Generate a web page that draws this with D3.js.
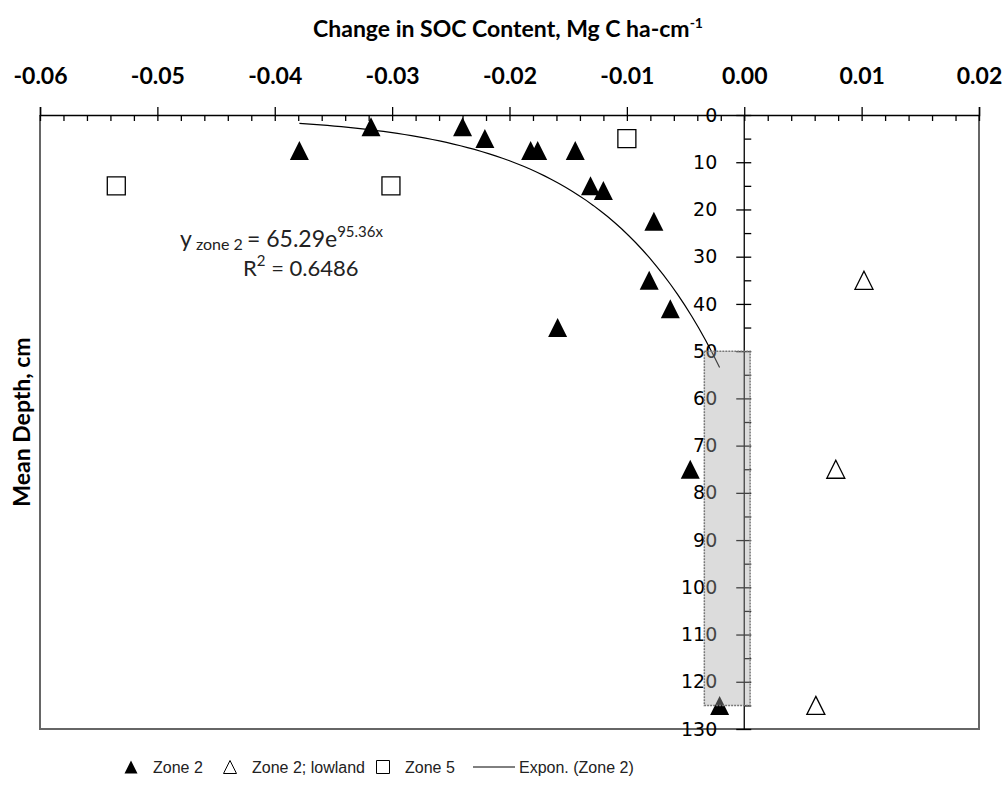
<!DOCTYPE html>
<html>
<head>
<meta charset="utf-8">
<script src="https://cdn.jsdelivr.net/npm/d3@7"></script>
<style>
  body { margin: 0; background: #fff; }
  svg { display: block; }
</style>
</head>
<body>
<script>
// Zone 2 (filled triangles): [change in SOC, depth]
var zone2 = [
  [-0.0379, 7.5], [-0.0318, 2.5], [-0.0240, 2.5], [-0.0221, 5],
  [-0.0182, 7.5], [-0.0176, 7.5], [-0.0144, 7.5], [-0.0131, 15],
  [-0.0120, 16], [-0.0077, 22.5], [-0.0081, 35], [-0.0063, 41],
  [-0.0159, 45], [-0.0046, 75], [-0.0021, 125]
];
// Zone 2; lowland (open triangles)
var zone2Lowland = [[0.0102, 35], [0.0078, 75], [0.0061, 125]];
// Zone 5 (open squares)
var zone5 = [[-0.0535, 15], [-0.0301, 15], [-0.0100, 5]];

// exponential fit for zone 2: y = a * e^(b x)
var fitA = 65.29, fitB = 95.36;

// shaded band [x0, x1, y0, y1]
var band = [-0.0034, 0.0005, 50, 125];

var xTicks = [-0.06, -0.05, -0.04, -0.03, -0.02, -0.01, 0.00, 0.01, 0.02];
var xMinorTicks = d3.range(-0.058, 0.02, 0.002).filter(function(d) { return Math.abs(Math.round(d * 1000) % 10) != 0; });
var yTicks = [0, 10, 20, 30, 40, 50, 60, 70, 80, 90, 100, 110, 120, 130];
var yMinorTicks = [5, 15, 25, 35, 45, 55, 65, 75, 85, 95, 105, 115, 125];

var legendNames = ["Zone 2", "Zone 2; lowland", "Zone 5", "Expon. (Zone 2)"];

var W = 1007, H = 792;
var pLeft = 40, pRight = 979, pTop = 115, pBottom = 729;

var x = d3.scaleLinear().domain([-0.06, 0.02]).range([pLeft, pRight]);
var y = d3.scaleLinear().domain([0, 130]).range([pTop, pBottom]);

var svg = d3.select("body").append("svg")
    .attr("width", W)
    .attr("height", H);

var cal = "Lato, 'Open Sans', sans-serif";
var narrow = "'Liberation Sans Narrow', 'Liberation Sans', sans-serif";

// frame
svg.append("path")
    .attr("d", "M" + pLeft + "," + pTop + "V" + pBottom + "H" + pRight + "V" + pTop)
    .attr("fill", "none")
    .attr("stroke", "#666")
    .attr("stroke-width", 2);

// top x axis
var xAxis = d3.axisTop(x)
    .tickValues(xTicks)
    .tickSize(8)
    .tickPadding(23)
    .tickFormat(function(d) { return d.toFixed(2); });

var gx = svg.append("g")
    .attr("transform", "translate(0," + pTop + ")")
    .call(xAxis);
gx.select(".domain").attr("stroke", "#000").attr("stroke-width", 1.5);
gx.selectAll(".tick line").attr("y1", 6).attr("stroke-width", 1.3);
gx.selectAll(".tick text")
    .style("font-family", cal)
    .style("font-weight", "bold")
    .style("font-size", "23px")
    .attr("fill", "#000");

var gxm = svg.append("g")
    .attr("transform", "translate(0," + pTop + ")")
    .call(d3.axisBottom(x).tickValues(xMinorTicks).tickSize(6).tickFormat(""));
gxm.select(".domain").remove();
gxm.selectAll(".tick line").attr("stroke-width", 1.3);

// y axis at x = 0
var yAxis = d3.axisLeft(y)
    .tickValues(yTicks)
    .tickSize(8)
    .tickPadding(19);

var gy = svg.append("g")
    .attr("transform", "translate(" + x(0) + ",0)")
    .call(yAxis);
gy.select(".domain").attr("d", "M0," + pTop + "V" + pBottom).attr("stroke", "#000").attr("stroke-width", 1.3);
gy.selectAll(".tick line").attr("x2", 7).attr("x1", -8).attr("stroke-width", 1.3);
gy.selectAll(".tick text")
    .style("font-family", "'DejaVu Sans', sans-serif")
    .style("font-size", "19px")
    .attr("fill", "#000");

var gym = svg.append("g")
    .attr("transform", "translate(" + x(0) + ",0)")
    .call(d3.axisRight(y).tickValues(yMinorTicks).tickSize(7).tickFormat(""));
gym.select(".domain").remove();
gym.selectAll(".tick line").attr("stroke-width", 1.3);

// trend line
var fitX0 = d3.min(zone2, function(d) { return d[0]; });
var fitX1 = d3.max(zone2, function(d) { return d[0]; });
var fitX = d3.range(0, 61).map(function(i) { return fitX0 + (fitX1 - fitX0) * i / 60; });
var line = d3.line()
    .x(function(d) { return x(d); })
    .y(function(d) { return y(fitA * Math.exp(fitB * d)); });
svg.append("path")
    .datum(fitX)
    .attr("d", line)
    .attr("fill", "none")
    .attr("stroke", "#000")
    .attr("stroke-width", 1.2);

// markers
function tri(s) {
  var h = s / 2;
  return "M0," + (-h) + "L" + h + "," + h + "L" + (-h) + "," + h + "Z";
}
function sq(s) {
  var h = s / 2;
  return "M" + (-h) + "," + (-h) + "H" + h + "V" + h + "H" + (-h) + "Z";
}

svg.append("g").selectAll("path")
    .data(zone5)
    .enter().append("path")
    .attr("transform", function(d) { return "translate(" + x(d[0]) + "," + y(d[1]) + ")"; })
    .attr("d", sq(18))
    .attr("fill", "#fff")
    .attr("stroke", "#000")
    .attr("stroke-width", 1.3);

svg.append("g").selectAll("path")
    .data(zone2Lowland)
    .enter().append("path")
    .attr("transform", function(d) { return "translate(" + x(d[0]) + "," + y(d[1]) + ")"; })
    .attr("d", tri(18))
    .attr("fill", "#fff")
    .attr("stroke", "#000")
    .attr("stroke-width", 1.3);

svg.append("g").selectAll("path")
    .data(zone2)
    .enter().append("path")
    .attr("transform", function(d) { return "translate(" + x(d[0]) + "," + y(d[1]) + ")"; })
    .attr("d", tri(19))
    .attr("fill", "#000");

// shaded band
svg.append("rect")
    .attr("x", x(band[0]))
    .attr("y", y(band[2]))
    .attr("width", x(band[1]) - x(band[0]))
    .attr("height", y(band[3]) - y(band[2]))
    .attr("fill", "#a8a8a8")
    .attr("fill-opacity", 0.4)
    .attr("stroke", "#777")
    .attr("stroke-width", 1.5)
    .attr("stroke-dasharray", "2,1");

// titles
svg.append("text")
    .attr("x", 508)
    .attr("y", 37)
    .attr("text-anchor", "middle")
    .style("font-family", cal)
    .style("font-weight", "bold")
    .style("font-size", "23px")
    .text("Change in SOC Content, Mg C ha-cm")
  .append("tspan")
    .attr("dy", -9)
    .style("font-size", "14px")
    .text("-1");

svg.append("text")
    .attr("transform", "translate(30,422) rotate(-90)")
    .attr("text-anchor", "middle")
    .style("font-family", cal)
    .style("font-weight", "bold")
    .style("font-size", "23px")
    .text("Mean Depth, cm");

// equation
var eq = svg.append("text")
    .attr("x", 180)
    .attr("y", 247)
    .style("font-family", cal)
    .style("font-size", "23px")
    .attr("fill", "#222");
eq.append("tspan").text("y");
eq.append("tspan").attr("dy", 3).style("font-size", "16px").text(" zone 2 ");
eq.append("tspan").attr("dy", -3).text("= 65.29e");
eq.append("tspan").attr("dy", -10).style("font-size", "15px").text("95.36x");

var r2 = svg.append("text")
    .attr("x", 243)
    .attr("y", 276)
    .style("font-family", cal)
    .style("font-size", "22px")
    .attr("fill", "#222");
r2.append("tspan").text("R");
r2.append("tspan").attr("dy", -10).style("font-size", "15px").text("2");
r2.append("tspan").attr("dy", 10).text(" = 0.6486");

// legend
var legendX = [131, 230, 383, 473];
var lg = svg.append("g").attr("transform", "translate(0,767)");
var item = lg.selectAll("g")
    .data(legendNames)
    .enter().append("g")
    .attr("transform", function(d, i) { return "translate(" + legendX[i] + ",0)"; });

item.each(function(d, i) {
  var g = d3.select(this);
  if (i == 0) g.append("path").attr("d", tri(13)).attr("fill", "#000");
  if (i == 1) g.append("path").attr("d", tri(13)).attr("fill", "#fff").attr("stroke", "#000").attr("stroke-width", 1);
  if (i == 2) g.append("path").attr("d", sq(13)).attr("fill", "#fff").attr("stroke", "#000").attr("stroke-width", 1);
  if (i == 3) g.append("line").attr("x1", 0).attr("x2", 42).attr("stroke", "#000").attr("stroke-width", 1);
  g.append("text")
      .attr("x", i == 3 ? 46 : 22)
      .attr("y", 6)
      .style("font-family", narrow)
      .style("font-size", "16px")
      .attr("fill", "#222")
      .text(d);
});
</script>
</body>
</html>
